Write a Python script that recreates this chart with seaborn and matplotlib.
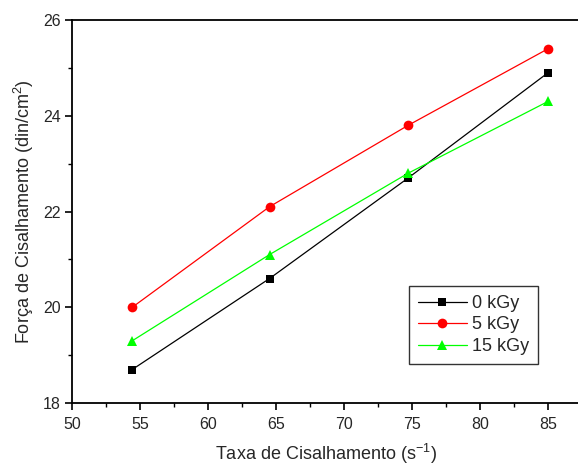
import matplotlib
matplotlib.use("Agg")
import matplotlib.pyplot as plt
import seaborn as sns
import pandas as pd
from matplotlib.ticker import MultipleLocator

sns.set_style("white")
plt.rcParams['font.family'] = ['Liberation Sans', 'DejaVu Sans']
plt.rcParams['mathtext.fontset'] = 'custom'
plt.rcParams['mathtext.rm'] = 'Liberation Sans'
plt.rcParams['mathtext.it'] = 'Liberation Sans'

shear_rate = [54.4, 64.5, 74.7, 85.0]
force_0kGy = [18.7, 20.6, 22.7, 24.9]
force_5kGy = [20.0, 22.1, 23.8, 25.4]
force_15kGy = [19.3, 21.1, 22.8, 24.3]
series_names = ["0 kGy", "5 kGy", "15 kGy"]

df = pd.DataFrame({
    "x": shear_rate * 3,
    "y": force_0kGy + force_5kGy + force_15kGy,
    "dose": [series_names[0]] * 4 + [series_names[1]] * 4 + [series_names[2]] * 4,
})

colors = {"0 kGy": "#000000", "5 kGy": "#ff0000", "15 kGy": "#00ff00"}
markers = {"0 kGy": "s", "5 kGy": "o", "15 kGy": "^"}
msizes = {"0 kGy": 6, "5 kGy": 7, "15 kGy": 7.5}

fig = plt.figure(figsize=(5.78, 4.65), dpi=100)
ax = fig.add_axes([0.1254, 0.1333, 0.877, 0.8237])

for name in series_names:
    sub = df[df["dose"] == name]
    sns.lineplot(data=sub, x="x", y="y", ax=ax, color=colors[name],
                 marker=markers[name], markersize=msizes[name],
                 markeredgewidth=0, linewidth=0.9, label=name,
                 estimator=None, sort=False)

ax.set_xlim(50, 87.3)
ax.set_ylim(18, 26)
ax.xaxis.set_major_locator(MultipleLocator(5))
ax.xaxis.set_minor_locator(MultipleLocator(2.5))
ax.yaxis.set_major_locator(MultipleLocator(2))
ax.yaxis.set_minor_locator(MultipleLocator(1))
ax.tick_params(which='major', direction='out', length=5, width=1.2,
               labelsize=11.5, color='black', bottom=True, left=True, top=False, right=False)
ax.tick_params(axis='x', which='major', pad=5)
ax.tick_params(which='minor', direction='out', length=3, width=1.0,
               color='black', bottom=True, left=True, top=False, right=False)
for side in ['left', 'bottom', 'top']:
    ax.spines[side].set_visible(True)
    ax.spines[side].set_color('black')
    ax.spines[side].set_linewidth(1.3)
ax.spines['right'].set_visible(False)

ax.set_xlabel("Taxa de Cisalhamento (s$^{-1}$)", fontsize=13, labelpad=7)
ax.set_ylabel("Força de Cisalhamento (din/cm$^{2}$)", fontsize=13, labelpad=5)

leg = ax.legend(loc='lower left', bbox_to_anchor=(0.664, 0.102), borderaxespad=0,
                fontsize=13, frameon=True, fancybox=False, edgecolor='black',
                handlelength=2.7, handletextpad=0.3, labelspacing=0.25,
                borderpad=0.5)
leg.get_frame().set_linewidth(1.0)

fig.savefig("out.png", dpi=100)
